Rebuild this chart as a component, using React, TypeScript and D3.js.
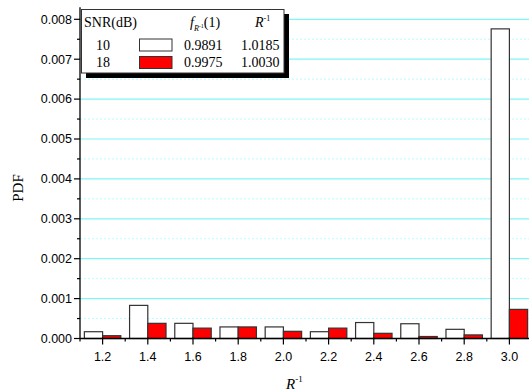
import React from 'react';
import * as d3 from 'd3';

const categories = ['1.2', '1.4', '1.6', '1.8', '2.0', '2.2', '2.4', '2.6', '2.8', '3.0'];
const seriesNames = ['10', '18'];
const snr10 = [0.00017, 0.00083, 0.00038, 0.00029, 0.00029, 0.00017, 0.0004, 0.00037, 0.00023, 0.00776];
const snr18 = [0.00007, 0.00038, 0.00026, 0.00029, 0.00018, 0.00026, 0.00013, 0.00005, 0.00009, 0.00073];
const seriesColors = ['#ffffff', '#ff0000'];
const fValues = ['0.9891', '0.9975'];
const rValues = ['1.0185', '1.0030'];
const yTicks = [0, 0.001, 0.002, 0.003, 0.004, 0.005, 0.006, 0.007, 0.008];

const W = 529;
const H = 392;
const serif = '"Liberation Serif", "Times New Roman", serif';
const sans = '"Liberation Sans", Arial, sans-serif';

export default function App() {
    const left = 80;
    const bottom = 338.5;

    const x = d3.scaleBand<string>().domain(categories).range([left, 532]).padding(0);
    const xs = d3.scaleBand<string>().domain(seriesNames).range([0, x.bandwidth()]).paddingInner(0).paddingOuter(0.24);
    const y = d3.scaleLinear().domain([0, 0.008]).range([bottom, 19.3]);
    const yTop = y(0.0083);
    const minorY = d3.range(0.0005, 0.0083, 0.001);
    const series = [snr10, snr18];

    return (
        <svg width={W} height={H} style={{ position: 'absolute', left: 0, top: 0, background: '#fff' }}>
            {/* grid */}
            {minorY.map((v) => (
                <line key={'mg' + v} x1={left} x2={W} y1={y(v)} y2={y(v)} stroke="#b8ffff" strokeDasharray="2,2" strokeWidth={1} />
            ))}
            {yTicks.slice(1).map((v) => (
                <line key={'g' + v} x1={left} x2={W} y1={y(v)} y2={y(v)} stroke="#7ff5f5" strokeWidth={1.2} />
            ))}

            {/* bars */}
            {series.map((vals, si) =>
                vals.map((v, i) => (
                    <rect
                        key={si + '-' + i}
                        x={(x(categories[i]) as number) + (xs(seriesNames[si]) as number)}
                        y={y(v)}
                        width={xs.bandwidth()}
                        height={bottom - y(v)}
                        fill={seriesColors[si]}
                        stroke="#333"
                        strokeWidth={1.2}
                    />
                ))
            )}

            {/* y axis */}
            <line x1={left} x2={left} y1={yTop} y2={bottom} stroke="#000" strokeWidth={1.3} />
            {yTicks.map((v) => (
                <g key={'yt' + v}>
                    <line x1={left - 6} x2={left} y1={y(v)} y2={y(v)} stroke="#000" strokeWidth={1.2} />
                    <text x={left - 8} y={y(v)} dy="0.35em" textAnchor="end" fontFamily={sans} fontSize={12.5}>
                        {d3.format('.3f')(v)}
                    </text>
                </g>
            ))}
            {minorY.map((v) => (
                <line key={'ym' + v} x1={left - 3} x2={left} y1={y(v)} y2={y(v)} stroke="#000" strokeWidth={1.2} />
            ))}

            {/* x axis */}
            <line x1={left} x2={W} y1={bottom} y2={bottom} stroke="#000" strokeWidth={1.3} />
            {categories.map((c) => {
                const cx = (x(c) as number) + x.bandwidth() / 2;
                return (
                    <g key={'xt' + c}>
                        <line x1={cx} x2={cx} y1={bottom - 1} y2={bottom + 6} stroke="#000" strokeWidth={1.2} />
                        <line x1={x(c) as number} x2={x(c) as number} y1={bottom} y2={bottom + 3} stroke="#000" strokeWidth={1.2} />
                        <text x={cx} y={357} dy="0.35em" textAnchor="middle" fontFamily={sans} fontSize={12.5}>
                            {c}
                        </text>
                    </g>
                );
            })}

            {/* axis titles */}
            <text transform="translate(23,188) rotate(-90)" textAnchor="middle" fontFamily={serif} fontSize={15}>
                PDF
            </text>
            <text x={286} y={389} fontFamily={serif} fontSize={15}>
                <tspan fontStyle="italic">R</tspan>
                <tspan fontSize={9} dy={-7}>-1</tspan>
            </text>

            {/* legend */}
            <rect x={86} y={14} width={203} height={64} fill="#000" />
            <rect x={81.5} y={9.5} width={202.5} height={63.5} fill="#fff" stroke="#333" strokeWidth={1} />
            <text x={84} y={27} fontFamily={serif} fontSize={14}>SNR(dB)</text>
            <text x={190} y={27} fontFamily={serif} fontSize={14}>
                <tspan fontStyle="italic">f</tspan>
                <tspan fontStyle="italic" fontSize={8} dy={4}>R</tspan>
                <tspan fontSize={6} dy={-3}>-1</tspan>
                <tspan dy={-1}>(1)</tspan>
            </text>
            <text x={255} y={27} fontFamily={serif} fontSize={14}>
                <tspan fontStyle="italic">R</tspan>
                <tspan fontSize={8} dy={-6}>-1</tspan>
            </text>
            {seriesNames.map((s, i) => {
                const ry = 45 + i * 17.5;
                return (
                    <g key={'lg' + s}>
                        <text x={96} y={ry} dy="0.35em" fontFamily={serif} fontSize={14}>{s}</text>
                        <rect x={139.5} y={ry - 6} width={32.5} height={12} fill={seriesColors[i]} stroke="#333" strokeWidth={1} />
                        <text x={184} y={ry} dy="0.35em" fontFamily={serif} fontSize={14}>{fValues[i]}</text>
                        <text x={241} y={ry} dy="0.35em" fontFamily={serif} fontSize={14}>{rValues[i]}</text>
                    </g>
                );
            })}
        </svg>
    );
}
